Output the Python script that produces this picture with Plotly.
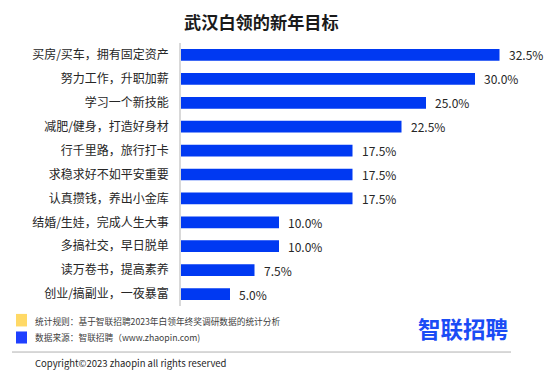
import plotly.graph_objects as go

categories = ["买房/买车，拥有固定资产", "努力工作，升职加薪", "学习一个新技能", "减肥/健身，打造好身材",
              "行千里路，旅行打卡", "求稳求好不如平安重要", "认真攒钱，养出小金库", "结婚/生娃，完成人生大事",
              "多搞社交，早日脱单", "读万卷书，提高素养", "创业/搞副业，一夜暴富"]
values = [32.5, 30.0, 25.0, 22.5, 17.5, 17.5, 17.5, 10.0, 10.0, 7.5, 5.0]

title = "武汉白领的新年目标"
note1 = "统计规则：基于智联招聘2023年白领年终奖调研数据的统计分析"
note2 = "数据来源：智联招聘（www.zhaopin.com)"
copyright_text = "Copyright©2023 zhaopin all rights reserved"
logo = "智联招聘"

W, H = 554, 374
L, R, T, B = 181, 13, 43.4, 68.4
PW, PH = W - L - R, H - T - B
FONT = "Noto Sans CJK SC"
BAR = "#0039f2"

def px(x):
    return (x - L) / PW

def py(y):
    return (H - B - y) / PH

fig = go.Figure(go.Bar(
    x=values, y=categories, orientation="h",
    marker=dict(color=BAR, line=dict(width=0)),
    width=0.49, hoverinfo="skip",
))

annotations = []
for c, v in zip(categories, values):
    annotations.append(dict(x=v, y=c, xref="x", yref="y", text=f"{v:.1f}%", showarrow=False,
                            xanchor="left", xshift=7, font=dict(family=FONT, size=12, color="#262626")))

annotations += [
    dict(x=px(261), y=py(22), xref="paper", yref="paper", text=f"<b>{title}</b>", showarrow=False,
         xanchor="center", yanchor="middle", font=dict(family=FONT, size=17.2, color="#1a1a1a")),
    dict(x=px(33), y=py(321), xref="paper", yref="paper", text=note1, showarrow=False,
         xanchor="left", yanchor="middle", font=dict(family=FONT, size=8.7, color="#404040")),
    dict(x=px(33), y=py(337.5), xref="paper", yref="paper", text=note2, showarrow=False,
         xanchor="left", yanchor="middle", font=dict(family=FONT, size=8.7, color="#404040")),
    dict(x=px(33), y=py(362), xref="paper", yref="paper", text=copyright_text, showarrow=False,
         xanchor="left", yanchor="middle", font=dict(family=FONT, size=9.5, color="#262626")),
    dict(x=px(463), y=py(328), xref="paper", yref="paper", text=f"<b>{logo}</b>", showarrow=False,
         xanchor="center", yanchor="middle", font=dict(family=FONT, size=22.5, color="#1a4cf5")),
]

shapes = [
    dict(type="rect", xref="paper", yref="paper", x0=px(16), x1=px(27), y0=py(326), y1=py(313.5),
         fillcolor="#ffd966", line=dict(width=0)),
    dict(type="rect", xref="paper", yref="paper", x0=px(16), x1=px(27), y0=py(343), y1=py(331),
         fillcolor="#1f40ff", line=dict(width=0)),
    dict(type="line", xref="paper", yref="paper", x0=px(12), x1=px(511), y0=py(351.5), y1=py(351.5),
         line=dict(color="#b0b0b0", width=1)),
]

fig.update_layout(
    width=W, height=H,
    margin=dict(l=L, r=R, t=T, b=B, pad=0),
    paper_bgcolor="white", plot_bgcolor="white",
    showlegend=False,
    xaxis=dict(range=[0, PW / 9.8], visible=False, fixedrange=True),
    yaxis=dict(autorange="reversed", showline=True, linecolor="#d9d9d9", linewidth=1.5,
               showgrid=False, zeroline=False, ticks="", ticklabelstandoff=8,
               tickfont=dict(family=FONT, size=12, color="#262626"), fixedrange=True),
    annotations=annotations, shapes=shapes,
)

fig.write_html("out.html", config={"displayModeBar": False},
               post_script="document.body.style.margin='0';document.body.style.padding='0';")
